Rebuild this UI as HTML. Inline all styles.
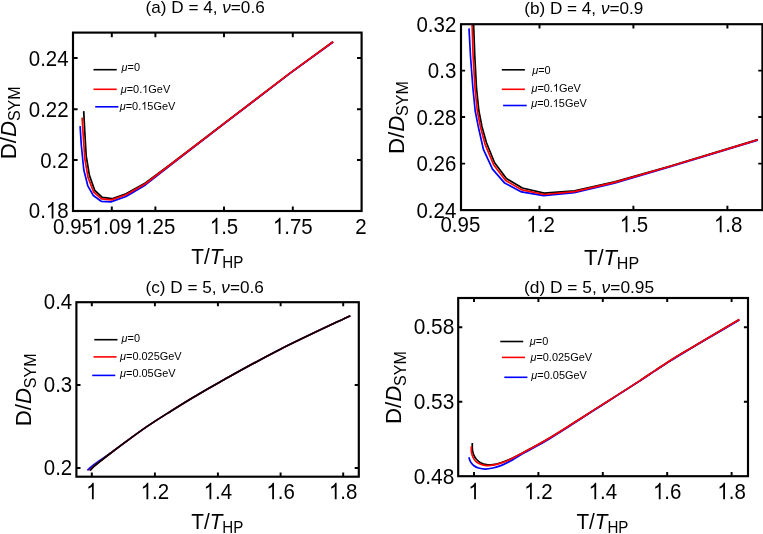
<!DOCTYPE html>
<html><head><meta charset="utf-8"><title>D/D_SYM vs T/T_HP</title>
<style>
html,body{margin:0;padding:0;background:#fff;}
svg{display:block;font-family:"Liberation Sans",sans-serif;fill:#000;will-change:transform;}
</style></head>
<body>
<svg width="763" height="534" viewBox="0 0 763 534">
<rect x="0" y="0" width="763" height="534" fill="#fff"/>
<path d="M83.70 111.10L84.70 130.20L86.20 156.00L89.40 175.40L94.80 190.50L102.30 197.40L112.00 198.70L126.00 193.80L145.40 183.00L170.00 164.70L224.00 123.50L290.00 73.10L333.10 41.70" stroke="#000" stroke-width="1.7" fill="none" stroke-linejoin="round" stroke-linecap="butt"/>
<path d="M80.10 126.10L81.30 145.00L83.80 170.00L87.80 185.80L93.30 195.50L101.20 201.30L110.90 201.90L126.00 196.50L145.40 184.90L170.00 165.60L224.00 123.90L290.00 73.40L333.10 42.00" stroke="#00f" stroke-width="1.7" fill="none" stroke-linejoin="round" stroke-linecap="butt"/>
<path d="M82.10 117.60L83.20 135.00L84.80 158.50L88.00 177.40L93.60 192.00L101.50 198.80L111.50 199.90L126.00 194.80L145.40 183.70L170.00 165.00L224.00 123.60L290.00 73.10L333.10 41.70" stroke="#f00" stroke-width="1.7" fill="none" stroke-linejoin="round" stroke-linecap="butt"/>
<rect x="73.0" y="32.6" width="288.60" height="178.40" fill="none" stroke="#000" stroke-width="2.15"/>
<path d="M111.8 211.0V206.40M111.8 32.6V37.20M155.4 211.0V206.40M155.4 32.6V37.20M224 211.0V206.40M224 32.6V37.20M292.8 211.0V206.40M292.8 32.6V37.20" stroke="#000" stroke-width="1.95" fill="none"/>
<path d="M73.0 58.0H77.60M361.6 58.0H357.00M73.0 109.2H77.60M361.6 109.2H357.00M73.0 160.0H77.60M361.6 160.0H357.00" stroke="#000" stroke-width="1.95" fill="none"/>
<g transform="translate(68.60,65.50) scale(0.975,1.09)" font-size="21" text-anchor="start"><text x="-40.87" y="0">0.24</text></g>
<g transform="translate(68.60,116.70) scale(0.975,1.09)" font-size="21" text-anchor="start"><text x="-40.87" y="0">0.22</text></g>
<g transform="translate(68.60,167.50) scale(0.975,1.09)" font-size="21" text-anchor="start"><text x="-29.19" y="0">0.2</text></g>
<g transform="translate(68.60,218.40) scale(0.975,1.09)" font-size="21" text-anchor="start"><text x="-40.87" y="0">0.</text><path transform="translate(-23.36,0) scale(0.01025,-0.01025)" d="M763 0H583V1147Q518 1085 412.5 1023T223 930V1104Q374 1175 487 1276T647 1472H763Z"/><text x="-11.68" y="0">8</text></g>
<g transform="translate(73.00,234.10) scale(0.975,1.09)" font-size="21" text-anchor="start"><text x="-20.44" y="0">0.95</text></g>
<g transform="translate(111.80,234.10) scale(0.975,1.09)" font-size="21" text-anchor="start"><path transform="translate(-20.44,0) scale(0.01025,-0.01025)" d="M763 0H583V1147Q518 1085 412.5 1023T223 930V1104Q374 1175 487 1276T647 1472H763Z"/><text x="-8.76" y="0">.09</text></g>
<g transform="translate(155.40,234.10) scale(0.975,1.09)" font-size="21" text-anchor="start"><path transform="translate(-20.44,0) scale(0.01025,-0.01025)" d="M763 0H583V1147Q518 1085 412.5 1023T223 930V1104Q374 1175 487 1276T647 1472H763Z"/><text x="-8.76" y="0">.25</text></g>
<g transform="translate(224.00,234.10) scale(0.975,1.09)" font-size="21" text-anchor="start"><path transform="translate(-14.60,0) scale(0.01025,-0.01025)" d="M763 0H583V1147Q518 1085 412.5 1023T223 930V1104Q374 1175 487 1276T647 1472H763Z"/><text x="-2.92" y="0">.5</text></g>
<g transform="translate(292.80,234.10) scale(0.975,1.09)" font-size="21" text-anchor="start"><path transform="translate(-20.44,0) scale(0.01025,-0.01025)" d="M763 0H583V1147Q518 1085 412.5 1023T223 930V1104Q374 1175 487 1276T647 1472H763Z"/><text x="-8.76" y="0">.75</text></g>
<g transform="translate(361.00,234.10) scale(0.975,1.09)" font-size="21" text-anchor="start"><text x="-5.84" y="0">2</text></g>
<text x="145.6" y="13.2" font-size="17.15" text-anchor="start">(a) D = 4, <tspan font-style="italic">ν</tspan>=0.6</text>
<text transform="translate(191.20,264.10) scale(0.9900,1.0460)" font-size="21" text-anchor="start">T/<tspan font-style="italic">T</tspan></text>
<text transform="translate(222.20,267.80) scale(1.0100,1.1200)" font-size="15" text-anchor="start">HP</text>
<text transform="translate(15.90,159.20) rotate(-90) scale(1.06,1.03)" font-size="21" text-anchor="start">D/<tspan font-style="italic">D</tspan></text>
<text transform="translate(20.40,121.10) rotate(-90) scale(1.07,1.06)" font-size="15" text-anchor="start">SYM</text>
<path d="M93.5 69.7H116.7" stroke="#000" stroke-width="1.6" fill="none"/>
<g transform="translate(121.60,71.20)" font-size="10.95" text-anchor="start"><text x="0" y="0" font-style="italic">μ</text><text x="6.00" y="0">=0</text></g>
<path d="M93.5 89.3H116.7" stroke="#f00" stroke-width="1.6" fill="none"/>
<g transform="translate(120.70,93.00)" font-size="10.95" text-anchor="start"><text x="0" y="0" font-style="italic">μ</text><text x="6.00" y="0">=0.</text><path transform="translate(21.53,0) scale(0.00535,-0.00535)" d="M763 0H583V1147Q518 1085 412.5 1023T223 930V1104Q374 1175 487 1276T647 1472H763Z"/><text x="27.62" y="0">GeV</text></g>
<path d="M95.2 106.8H118.4" stroke="#00f" stroke-width="1.6" fill="none"/>
<g transform="translate(119.70,109.70)" font-size="10.95" text-anchor="start"><text x="0" y="0" font-style="italic">μ</text><text x="6.00" y="0">=0.</text><path transform="translate(21.53,0) scale(0.00535,-0.00535)" d="M763 0H583V1147Q518 1085 412.5 1023T223 930V1104Q374 1175 487 1276T647 1472H763Z"/><text x="27.62" y="0">5GeV</text></g>
<clipPath id="cb"><rect x="461.0" y="24.2" width="301.4" height="185.9"/></clipPath>
<path d="M473.30 15.00L473.60 24.30L474.80 56.20L476.50 88.00L478.90 111.00L482.00 126.70L486.40 142.50L494.60 162.80L506.40 178.50L522.40 188.00L544.10 193.10L574.50 190.80L614.60 181.90L670.50 166.00L747.00 142.90L757.80 139.60" stroke="#000" stroke-width="1.7" fill="none" stroke-linejoin="round" stroke-linecap="butt" clip-path="url(#cb)"/>
<path d="M469.00 28.40L470.50 56.20L472.90 88.00L475.20 111.00L478.30 126.70L483.50 149.70L492.50 169.10L504.70 183.10L521.50 191.90L543.70 195.60L574.30 192.60L614.40 183.10L670.30 166.80L747.00 143.40L757.80 140.10" stroke="#00f" stroke-width="1.7" fill="none" stroke-linejoin="round" stroke-linecap="butt" clip-path="url(#cb)"/>
<path d="M471.80 15.00L472.10 24.30L473.10 56.20L475.00 88.00L477.30 111.00L480.40 126.70L485.10 144.40L493.60 164.70L505.60 180.50L522.00 189.90L544.10 194.50L574.50 191.60L614.60 182.40L670.50 166.30L747.00 143.10L757.80 139.80" stroke="#f00" stroke-width="1.7" fill="none" stroke-linejoin="round" stroke-linecap="butt" clip-path="url(#cb)"/>
<rect x="461.0" y="24.2" width="301.40" height="185.90" fill="none" stroke="#000" stroke-width="2.15"/>
<path d="M539.5 210.1V205.70M539.5 24.2V28.60M633.4 210.1V205.70M633.4 24.2V28.60M727.4 210.1V205.70M727.4 24.2V28.60" stroke="#000" stroke-width="1.95" fill="none"/>
<path d="M461.0 70.6H465.10M762.4 70.6H758.30M461.0 117.0H465.10M762.4 117.0H758.30M461.0 163.6H465.10M762.4 163.6H758.30" stroke="#000" stroke-width="1.95" fill="none"/>
<g transform="translate(456.30,31.50) scale(0.975,1.09)" font-size="21" text-anchor="start"><text x="-40.87" y="0">0.32</text></g>
<g transform="translate(456.30,78.10) scale(0.975,1.09)" font-size="21" text-anchor="start"><text x="-29.19" y="0">0.3</text></g>
<g transform="translate(456.30,124.70) scale(0.975,1.09)" font-size="21" text-anchor="start"><text x="-40.87" y="0">0.28</text></g>
<g transform="translate(456.30,171.10) scale(0.975,1.09)" font-size="21" text-anchor="start"><text x="-40.87" y="0">0.26</text></g>
<g transform="translate(456.30,217.50) scale(0.975,1.09)" font-size="21" text-anchor="start"><text x="-40.87" y="0">0.24</text></g>
<g transform="translate(460.40,232.30) scale(0.975,1.09)" font-size="21" text-anchor="start"><text x="-20.44" y="0">0.95</text></g>
<g transform="translate(540.60,232.30) scale(0.975,1.09)" font-size="21" text-anchor="start"><path transform="translate(-14.60,0) scale(0.01025,-0.01025)" d="M763 0H583V1147Q518 1085 412.5 1023T223 930V1104Q374 1175 487 1276T647 1472H763Z"/><text x="-2.92" y="0">.2</text></g>
<g transform="translate(634.00,232.30) scale(0.975,1.09)" font-size="21" text-anchor="start"><path transform="translate(-14.60,0) scale(0.01025,-0.01025)" d="M763 0H583V1147Q518 1085 412.5 1023T223 930V1104Q374 1175 487 1276T647 1472H763Z"/><text x="-2.92" y="0">.5</text></g>
<g transform="translate(728.20,232.30) scale(0.975,1.09)" font-size="21" text-anchor="start"><path transform="translate(-14.60,0) scale(0.01025,-0.01025)" d="M763 0H583V1147Q518 1085 412.5 1023T223 930V1104Q374 1175 487 1276T647 1472H763Z"/><text x="-2.92" y="0">.8</text></g>
<text x="524.2" y="13.8" font-size="17.15" text-anchor="start">(b) D = 4, <tspan font-style="italic">ν</tspan>=0.9</text>
<text transform="translate(584.00,265.00) scale(1.0494,1.0460)" font-size="21" text-anchor="start">T/<tspan font-style="italic">T</tspan></text>
<text transform="translate(616.86,268.70) scale(1.0706,1.1200)" font-size="15" text-anchor="start">HP</text>
<text transform="translate(403.80,154.00) rotate(-90) scale(1.06,1.03)" font-size="21" text-anchor="start">D/<tspan font-style="italic">D</tspan></text>
<text transform="translate(408.30,115.90) rotate(-90) scale(1.07,1.06)" font-size="15" text-anchor="start">SYM</text>
<path d="M501.8 69.8H524.9" stroke="#000" stroke-width="1.6" fill="none"/>
<g transform="translate(532.20,74.40)" font-size="10.95" text-anchor="start"><text x="0" y="0" font-style="italic">μ</text><text x="6.00" y="0">=0</text></g>
<path d="M501.8 89.3H524.9" stroke="#f00" stroke-width="1.6" fill="none"/>
<g transform="translate(531.40,91.60)" font-size="10.95" text-anchor="start"><text x="0" y="0" font-style="italic">μ</text><text x="6.00" y="0">=0.</text><path transform="translate(21.53,0) scale(0.00535,-0.00535)" d="M763 0H583V1147Q518 1085 412.5 1023T223 930V1104Q374 1175 487 1276T647 1472H763Z"/><text x="27.62" y="0">GeV</text></g>
<path d="M503.1 105.5H526.7" stroke="#00f" stroke-width="1.6" fill="none"/>
<g transform="translate(531.20,107.00)" font-size="10.95" text-anchor="start"><text x="0" y="0" font-style="italic">μ</text><text x="6.00" y="0">=0.</text><path transform="translate(21.53,0) scale(0.00535,-0.00535)" d="M763 0H583V1147Q518 1085 412.5 1023T223 930V1104Q374 1175 487 1276T647 1472H763Z"/><text x="27.62" y="0">5GeV</text></g>
<path d="M87.40 470.30C88.12 469.63 89.98 467.70 91.70 466.30C93.42 464.90 94.65 464.03 97.70 461.90C100.75 459.77 105.62 456.63 110.00 453.50C114.38 450.37 117.80 447.62 124.00 443.10C130.20 438.58 139.40 431.72 147.20 426.40C155.00 421.08 162.95 416.15 170.80 411.20C178.65 406.25 186.10 401.58 194.30 396.70C202.50 391.82 205.65 389.82 220.00 381.90C234.35 373.98 258.68 360.23 280.40 349.20C302.12 338.17 338.65 321.28 350.30 315.70" stroke="#00f" stroke-width="1.7" fill="none" stroke-linejoin="round" stroke-linecap="butt"/>
<path d="M89.50 470.70C90.17 470.02 91.95 468.00 93.50 466.60C95.05 465.20 96.02 464.48 98.80 462.30C101.58 460.12 106.00 456.70 110.20 453.50C114.40 450.30 117.83 447.62 124.00 443.10C130.17 438.58 139.40 431.72 147.20 426.40C155.00 421.08 162.95 416.15 170.80 411.20C178.65 406.25 186.10 401.58 194.30 396.70C202.50 391.82 205.65 389.82 220.00 381.90C234.35 373.98 258.68 360.23 280.40 349.20C302.12 338.17 338.65 321.28 350.30 315.70" stroke="#f00" stroke-width="1.7" fill="none" stroke-linejoin="round" stroke-linecap="butt"/>
<path d="M90.10 470.30C90.75 469.65 92.52 467.73 94.00 466.40C95.48 465.07 96.30 464.45 99.00 462.30C101.70 460.15 106.03 456.70 110.20 453.50C114.37 450.30 117.83 447.62 124.00 443.10C130.17 438.58 139.40 431.72 147.20 426.40C155.00 421.08 162.95 416.15 170.80 411.20C178.65 406.25 186.10 401.58 194.30 396.70C202.50 391.82 205.65 389.82 220.00 381.90C234.35 373.98 258.68 360.23 280.40 349.20C302.12 338.17 338.65 321.28 350.30 315.70" stroke="#000" stroke-width="1.7" fill="none" stroke-linejoin="round" stroke-linecap="butt"/>
<rect x="76.4" y="302.2" width="282.40" height="174.50" fill="none" stroke="#000" stroke-width="2.15"/>
<path d="M91.8 476.7V472.60M91.8 302.2V306.30M154.9 476.7V472.60M154.9 302.2V306.30M217.9 476.7V472.60M217.9 302.2V306.30M280.6 476.7V472.60M280.6 302.2V306.30M343.2 476.7V472.60M343.2 302.2V306.30" stroke="#000" stroke-width="1.95" fill="none"/>
<path d="M76.4 385.0H80.50M358.8 385.0H354.70M76.4 467.9H80.50M358.8 467.9H354.70" stroke="#000" stroke-width="1.95" fill="none"/>
<g transform="translate(72.20,309.40) scale(0.975,1.09)" font-size="21" text-anchor="start"><text x="-29.19" y="0">0.4</text></g>
<g transform="translate(72.20,392.20) scale(0.975,1.09)" font-size="21" text-anchor="start"><text x="-29.19" y="0">0.3</text></g>
<g transform="translate(72.20,475.30) scale(0.975,1.09)" font-size="21" text-anchor="start"><text x="-29.19" y="0">0.2</text></g>
<g transform="translate(91.80,499.20) scale(0.975,1.09)" font-size="21" text-anchor="start"><path transform="translate(-5.84,0) scale(0.01025,-0.01025)" d="M763 0H583V1147Q518 1085 412.5 1023T223 930V1104Q374 1175 487 1276T647 1472H763Z"/></g>
<g transform="translate(154.90,499.20) scale(0.975,1.09)" font-size="21" text-anchor="start"><path transform="translate(-14.60,0) scale(0.01025,-0.01025)" d="M763 0H583V1147Q518 1085 412.5 1023T223 930V1104Q374 1175 487 1276T647 1472H763Z"/><text x="-2.92" y="0">.2</text></g>
<g transform="translate(217.90,499.20) scale(0.975,1.09)" font-size="21" text-anchor="start"><path transform="translate(-14.60,0) scale(0.01025,-0.01025)" d="M763 0H583V1147Q518 1085 412.5 1023T223 930V1104Q374 1175 487 1276T647 1472H763Z"/><text x="-2.92" y="0">.4</text></g>
<g transform="translate(280.60,499.20) scale(0.975,1.09)" font-size="21" text-anchor="start"><path transform="translate(-14.60,0) scale(0.01025,-0.01025)" d="M763 0H583V1147Q518 1085 412.5 1023T223 930V1104Q374 1175 487 1276T647 1472H763Z"/><text x="-2.92" y="0">.6</text></g>
<g transform="translate(343.20,499.20) scale(0.975,1.09)" font-size="21" text-anchor="start"><path transform="translate(-14.60,0) scale(0.01025,-0.01025)" d="M763 0H583V1147Q518 1085 412.5 1023T223 930V1104Q374 1175 487 1276T647 1472H763Z"/><text x="-2.92" y="0">.8</text></g>
<text x="145.6" y="292.6" font-size="17.15" text-anchor="start">(c) D = 5, <tspan font-style="italic">ν</tspan>=0.6</text>
<text transform="translate(191.20,529.20) scale(0.9900,1.0460)" font-size="21" text-anchor="start">T/<tspan font-style="italic">T</tspan></text>
<text transform="translate(222.20,532.90) scale(1.0100,1.1200)" font-size="15" text-anchor="start">HP</text>
<text transform="translate(31.10,426.30) rotate(-90) scale(1.06,1.03)" font-size="21" text-anchor="start">D/<tspan font-style="italic">D</tspan></text>
<text transform="translate(35.60,388.20) rotate(-90) scale(1.07,1.06)" font-size="15" text-anchor="start">SYM</text>
<path d="M94.3 339.7H117.5" stroke="#000" stroke-width="1.6" fill="none"/>
<g transform="translate(121.60,342.30)" font-size="10.95" text-anchor="start"><text x="0" y="0" font-style="italic">μ</text><text x="6.00" y="0">=0</text></g>
<path d="M93.5 356.9H116.6" stroke="#f00" stroke-width="1.6" fill="none"/>
<g transform="translate(120.00,360.10)" font-size="10.95" text-anchor="start"><text x="0" y="0" font-style="italic">μ</text><text x="6.00" y="0">=0.025GeV</text></g>
<path d="M92.2 375.4H115.3" stroke="#00f" stroke-width="1.6" fill="none"/>
<g transform="translate(120.00,377.00)" font-size="10.95" text-anchor="start"><text x="0" y="0" font-style="italic">μ</text><text x="6.00" y="0">=0.05GeV</text></g>
<path d="M472.30 443.10C472.32 444.20 472.17 447.73 472.40 449.70C472.63 451.67 473.00 453.27 473.70 454.90C474.40 456.53 475.45 458.18 476.60 459.50C477.75 460.82 478.95 461.93 480.60 462.80C482.25 463.67 484.43 464.40 486.50 464.70C488.57 465.00 490.60 464.93 493.00 464.60C495.40 464.27 498.07 463.58 500.90 462.70C503.73 461.82 506.82 460.70 510.00 459.30C513.18 457.90 515.83 456.47 520.00 454.30C524.17 452.13 530.00 449.07 535.00 446.30C540.00 443.53 545.00 440.67 550.00 437.70C555.00 434.73 559.17 432.17 565.00 428.50C570.83 424.83 579.17 419.43 585.00 415.70C590.83 411.97 595.00 409.28 600.00 406.10C605.00 402.92 608.33 400.85 615.00 396.60C621.67 392.35 633.33 384.93 640.00 380.60C646.67 376.27 650.00 373.90 655.00 370.60C660.00 367.30 665.00 363.97 670.00 360.80C675.00 357.63 679.17 355.10 685.00 351.60C690.83 348.10 695.95 345.13 705.00 339.80C714.05 334.47 733.58 322.97 739.30 319.60" stroke="#000" stroke-width="1.7" fill="none" stroke-linejoin="round" stroke-linecap="butt"/>
<path d="M468.80 457.30C469.12 458.10 469.83 460.70 470.70 462.10C471.57 463.50 472.68 464.72 474.00 465.70C475.32 466.68 476.75 467.43 478.60 468.00C480.45 468.57 482.70 469.10 485.10 469.10C487.50 469.10 490.37 468.58 493.00 468.00C495.63 467.42 498.07 466.72 500.90 465.60C503.73 464.48 506.82 463.03 510.00 461.30C513.18 459.57 515.83 457.57 520.00 455.20C524.17 452.83 530.00 449.90 535.00 447.10C540.00 444.30 545.00 441.40 550.00 438.40C555.00 435.40 559.17 432.82 565.00 429.10C570.83 425.38 579.17 419.87 585.00 416.10C590.83 412.33 595.00 409.70 600.00 406.50C605.00 403.30 608.33 401.17 615.00 396.90C621.67 392.63 633.33 385.23 640.00 380.90C646.67 376.57 650.00 374.20 655.00 370.90C660.00 367.60 665.00 364.27 670.00 361.10C675.00 357.93 679.17 355.40 685.00 351.90C690.83 348.40 695.95 345.43 705.00 340.10C714.05 334.77 733.58 323.27 739.30 319.90" stroke="#00f" stroke-width="1.7" fill="none" stroke-linejoin="round" stroke-linecap="butt"/>
<path d="M471.30 446.40C471.33 447.38 471.20 450.45 471.50 452.30C471.80 454.15 472.35 455.93 473.10 457.50C473.85 459.07 474.75 460.57 476.00 461.70C477.25 462.83 478.85 463.65 480.60 464.30C482.35 464.95 484.43 465.45 486.50 465.60C488.57 465.75 490.60 465.62 493.00 465.20C495.40 464.78 498.07 464.05 500.90 463.10C503.73 462.15 506.82 460.97 510.00 459.50C513.18 458.03 515.83 456.50 520.00 454.30C524.17 452.10 530.00 449.07 535.00 446.30C540.00 443.53 545.00 440.67 550.00 437.70C555.00 434.73 559.17 432.17 565.00 428.50C570.83 424.83 579.17 419.43 585.00 415.70C590.83 411.97 595.00 409.28 600.00 406.10C605.00 402.92 608.33 400.85 615.00 396.60C621.67 392.35 633.33 384.93 640.00 380.60C646.67 376.27 650.00 373.90 655.00 370.60C660.00 367.30 665.00 363.97 670.00 360.80C675.00 357.63 679.17 355.10 685.00 351.60C690.83 348.10 695.95 345.13 705.00 339.80C714.05 334.47 733.58 322.97 739.30 319.60" stroke="#f00" stroke-width="1.7" fill="none" stroke-linejoin="round" stroke-linecap="butt"/>
<rect x="458.2" y="298.0" width="289.80" height="178.20" fill="none" stroke="#000" stroke-width="2.15"/>
<path d="M474 476.2V472.10M474 298.0V302.10M538.4 476.2V472.10M538.4 298.0V302.10M602.8 476.2V472.10M602.8 298.0V302.10M667.2 476.2V472.10M667.2 298.0V302.10M731.6 476.2V472.10M731.6 298.0V302.10" stroke="#000" stroke-width="1.95" fill="none"/>
<path d="M458.2 327.3H462.30M748.0 327.3H743.90M458.2 401.7H462.30M748.0 401.7H743.90" stroke="#000" stroke-width="1.95" fill="none"/>
<g transform="translate(454.30,334.10) scale(0.995,1.09)" font-size="21" text-anchor="start"><text x="-40.87" y="0">0.58</text></g>
<g transform="translate(454.30,408.50) scale(0.995,1.09)" font-size="21" text-anchor="start"><text x="-40.87" y="0">0.53</text></g>
<g transform="translate(454.30,483.80) scale(0.995,1.09)" font-size="21" text-anchor="start"><text x="-40.87" y="0">0.48</text></g>
<g transform="translate(474.00,499.20) scale(0.975,1.09)" font-size="21" text-anchor="start"><path transform="translate(-5.84,0) scale(0.01025,-0.01025)" d="M763 0H583V1147Q518 1085 412.5 1023T223 930V1104Q374 1175 487 1276T647 1472H763Z"/></g>
<g transform="translate(538.40,499.20) scale(0.975,1.09)" font-size="21" text-anchor="start"><path transform="translate(-14.60,0) scale(0.01025,-0.01025)" d="M763 0H583V1147Q518 1085 412.5 1023T223 930V1104Q374 1175 487 1276T647 1472H763Z"/><text x="-2.92" y="0">.2</text></g>
<g transform="translate(602.80,499.20) scale(0.975,1.09)" font-size="21" text-anchor="start"><path transform="translate(-14.60,0) scale(0.01025,-0.01025)" d="M763 0H583V1147Q518 1085 412.5 1023T223 930V1104Q374 1175 487 1276T647 1472H763Z"/><text x="-2.92" y="0">.4</text></g>
<g transform="translate(667.20,499.20) scale(0.975,1.09)" font-size="21" text-anchor="start"><path transform="translate(-14.60,0) scale(0.01025,-0.01025)" d="M763 0H583V1147Q518 1085 412.5 1023T223 930V1104Q374 1175 487 1276T647 1472H763Z"/><text x="-2.92" y="0">.6</text></g>
<g transform="translate(731.60,499.20) scale(0.975,1.09)" font-size="21" text-anchor="start"><path transform="translate(-14.60,0) scale(0.01025,-0.01025)" d="M763 0H583V1147Q518 1085 412.5 1023T223 930V1104Q374 1175 487 1276T647 1472H763Z"/><text x="-2.92" y="0">.8</text></g>
<text x="524.0" y="292.6" font-size="17.35" text-anchor="start">(d) D = 5, <tspan font-style="italic">ν</tspan>=0.95</text>
<text transform="translate(576.40,529.20) scale(0.9900,1.0460)" font-size="21" text-anchor="start">T/<tspan font-style="italic">T</tspan></text>
<text transform="translate(607.40,532.90) scale(1.0100,1.1200)" font-size="15" text-anchor="start">HP</text>
<text transform="translate(401.00,424.00) rotate(-90) scale(1.06,1.03)" font-size="21" text-anchor="start">D/<tspan font-style="italic">D</tspan></text>
<text transform="translate(405.50,385.90) rotate(-90) scale(1.07,1.06)" font-size="15" text-anchor="start">SYM</text>
<path d="M500.3 341.5H523.2" stroke="#000" stroke-width="1.6" fill="none"/>
<g transform="translate(529.80,345.10)" font-size="10.95" text-anchor="start"><text x="0" y="0" font-style="italic">μ</text><text x="6.00" y="0">=0</text></g>
<path d="M501.9 357.4H524.9" stroke="#f00" stroke-width="1.6" fill="none"/>
<g transform="translate(530.40,360.80)" font-size="10.95" text-anchor="start"><text x="0" y="0" font-style="italic">μ</text><text x="6.00" y="0">=0.025GeV</text></g>
<path d="M504.3 377.3H527.4" stroke="#00f" stroke-width="1.6" fill="none"/>
<g transform="translate(531.30,378.90)" font-size="10.95" text-anchor="start"><text x="0" y="0" font-style="italic">μ</text><text x="6.00" y="0">=0.05GeV</text></g>
</svg>
</body></html>
